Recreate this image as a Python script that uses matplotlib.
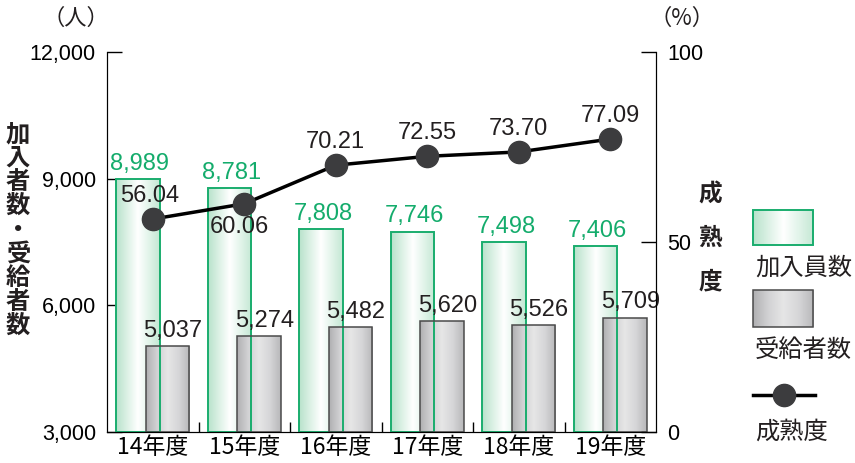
import matplotlib
matplotlib.use("Agg")
import matplotlib.pyplot as plt
import numpy as np
from matplotlib.colors import LinearSegmentedColormap
from matplotlib.patches import Rectangle
from matplotlib.lines import Line2D

plt.rcParams["font.family"] = ["Liberation Sans", "Noto Sans CJK JP", "DejaVu Sans"]

years = ["14年度", "15年度", "16年度", "17年度", "18年度", "19年度"]
members = [8989, 8781, 7808, 7746, 7498, 7406]
recipients = [5037, 5274, 5482, 5620, 5526, 5709]
maturity = [56.04, 60.06, 70.21, 72.55, 73.70, 77.09]

GREEN = "#1aad6e"
GREEN_TXT = "#14ac6c"
TXT = "#231f20"
JP = ["Noto Sans CJK JP", "DejaVu Sans"]
FS_TICK = 15.5
FS_VAL = 17

green_cmap = LinearSegmentedColormap.from_list(
    "g", ["#b8e2cb", "#dcf1e5", "#ffffff", "#e2f4ea", "#c4e8d4"])
gray_cmap = LinearSegmentedColormap.from_list(
    "k", ["#b0b0b2", "#d2d2d4", "#e6e6e6", "#d6d6d8", "#b8b8ba"])

fig = plt.figure(figsize=(8.55, 4.63), dpi=100)
ax = fig.add_axes([107 / 855, 31 / 463, 549 / 855, 380 / 463])
ax2 = ax.twinx()

x = np.arange(len(years))
w = 0.475
off = 0.16
grad = np.linspace(0, 1, 100).reshape(1, -1)


def grad_bar(axis, xc, h, base, cmap, edge, lw):
    r = Rectangle((xc - w / 2, base), w, h - base, facecolor="none",
                  edgecolor=edge, lw=lw, zorder=3)
    axis.add_patch(r)
    im = axis.imshow(grad, cmap=cmap, aspect="auto", zorder=2,
                     extent=(xc - w / 2, xc + w / 2, base, h))
    im.set_clip_path(r)


for i in x:
    grad_bar(ax, i - off, members[i], 3000, green_cmap, GREEN, 1.4)
    ax.text(i - off + 0.02, members[i] + 100, f"{members[i]:,}", ha="center",
            va="bottom", fontsize=FS_VAL, color=GREEN_TXT, zorder=6)
for i in x:
    grad_bar(ax, i + off, recipients[i], 3000, gray_cmap, "#4a4a4a", 1.1)
    ax.text(i + off + 0.06, recipients[i] + 100, f"{recipients[i]:,}",
            ha="center", va="bottom", fontsize=FS_VAL, color=TXT, zorder=6)

ax.set_xlim(-0.5, 5.5)
ax.set_ylim(3000, 12000)
ax.set_yticks([3000, 6000, 9000, 12000])
ax.set_yticklabels([f"{v:,}" for v in [3000, 6000, 9000, 12000]])
ax.set_xticks(x)
ax.set_xticklabels(years, fontsize=16.5, family=JP)
ax.set_xticks(np.arange(0.5, 5.0, 1.0), minor=True)
ax.tick_params(axis="x", which="major", length=0, pad=3)
ax.tick_params(axis="x", which="minor", direction="in", length=7, width=1)
ax.tick_params(axis="y", direction="in", length=11, width=1,
               labelsize=FS_TICK, pad=8)
ax.spines["top"].set_visible(False)
ax.set_zorder(1)

ax2.plot(x, maturity, color="black", lw=2.5, marker="o", markersize=16,
         markerfacecolor="#3c3c3e", markeredgecolor="#3c3c3e", zorder=5)
ax2.set_ylim(0, 100)
ax2.set_yticks([0, 50, 100])
ax2.tick_params(axis="y", direction="in", length=11, width=1,
                labelsize=FS_TICK, pad=8)
ax2.spines["top"].set_visible(False)
ax2.set_zorder(2)
ax2.patch.set_visible(False)

for i, v in enumerate(maturity):
    if i == 0:
        ax2.text(i - 0.03, v + 3.2, f"{v:.2f}", ha="center", va="bottom",
                 fontsize=FS_VAL, color=TXT)
    elif i == 1:
        ax2.text(i - 0.05, v - 3.3, f"{v:.2f}", ha="center", va="top",
                 fontsize=FS_VAL, color=TXT)
    else:
        ax2.text(i, v + 3.2, f"{v:.2f}", ha="center", va="bottom",
                 fontsize=FS_VAL, color=TXT)

# axis unit labels and stacked vertical titles
fig.text(76 / 855, 1 - 18 / 463, "（人）", ha="center", va="center",
         fontsize=16, family=JP, color=TXT)
fig.text(682 / 855, 1 - 18 / 463, "（%）", ha="center", va="center",
         fontsize=16, family=JP, color=TXT)
fig.text(18 / 855, 1 - 230 / 463, "\n".join("加入者数・受給者数"), ha="center",
         va="center", fontsize=17.5, family=JP, fontweight="bold",
         linespacing=1.0, color=TXT)
fig.text(710 / 855, 1 - 238 / 463, "\n".join("成熟度"), ha="center",
         va="center", fontsize=17, family=JP, fontweight="bold",
         linespacing=2.05, color=TXT)

# legend drawn by hand
lg = fig.add_axes([0, 0, 1, 1], zorder=5)
lg.add_patch(Rectangle((753, 210), 60, 35, facecolor="none",
                       edgecolor=GREEN, lw=1.4, zorder=3))
lg.imshow(grad, cmap=green_cmap, aspect="auto",
          extent=(753, 813, 245, 210), zorder=2)
lg.add_patch(Rectangle((753, 290), 60, 37, facecolor="none",
                       edgecolor="#4a4a4a", lw=1.1, zorder=3))
lg.imshow(grad, cmap=gray_cmap, aspect="auto",
          extent=(753, 813, 327, 290), zorder=2)
lg.set_xlim(0, 855)
lg.set_ylim(463, 0)
lg.axis("off")
lg.add_line(Line2D([753, 815], [395, 395], color="black", lw=2.5))
lg.plot([784], [395], marker="o", markersize=16, color="#3c3c3e")
for yy, t in [(268, "加入員数"), (350, "受給者数"), (432, "成熟度")]:
    lg.text(755, yy, t, ha="left", va="center", fontsize=17.5,
            family=JP, color=TXT)

fig.savefig("out.png", dpi=100)
